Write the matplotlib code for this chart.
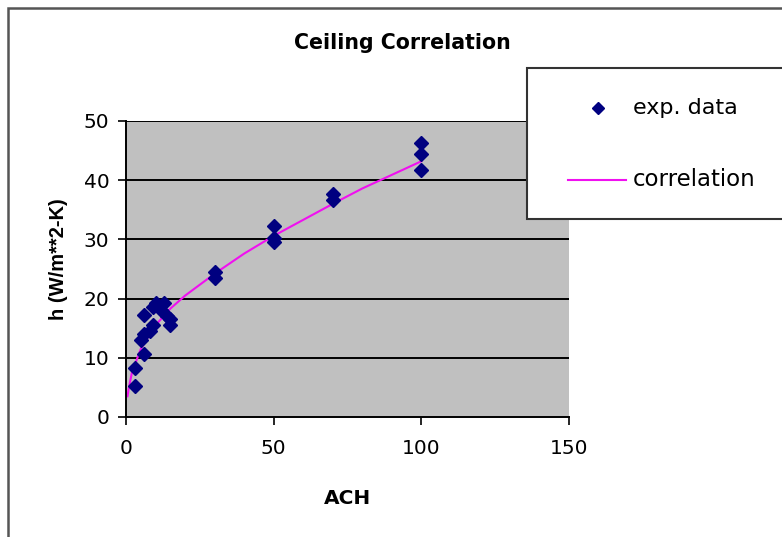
import matplotlib
matplotlib.use("Agg")
import matplotlib.pyplot as plt
from matplotlib.patches import Rectangle
from matplotlib.lines import Line2D

plt.rcParams['font.family'] = ['DejaVu Sans']

# Measured heat transfer coefficients
ach_data = [3, 3, 6, 5, 6, 8, 9, 9, 6, 10, 12, 13, 14, 15, 15,
            30, 30, 50, 50, 50, 70, 70, 100, 100, 100]
h_data = [5.2, 8.3, 10.6, 13.0, 14.0, 14.5, 15.5, 18.5, 17.2, 19.2, 18.0, 19.3,
          17.0, 16.5, 15.6, 23.4, 24.5, 29.6, 30.2, 32.2, 36.6, 37.6, 41.7, 44.4, 46.2]

# Correlation curve
ach_corr = [0.5, 1, 2, 5, 10, 15, 20, 30, 40, 50, 60, 70, 80, 90, 100]
h_corr = [3.5, 5.0, 7.5, 11.5, 15.5, 18.3, 20.5, 24.2, 27.6, 30.6, 33.3, 36.0, 38.6, 40.9, 43.2]

x_ticks = [0, 50, 100, 150]
y_ticks = [0, 10, 20, 30, 40, 50]

W, H = 782, 537
fig = plt.figure(figsize=(W / 100, H / 100), dpi=100)
fig.patch.set_facecolor('white')

# Outer chart frame
fig.patches.append(Rectangle((8 / W, -0.1), 1.2, 1 - 8 / H + 0.1,
                             transform=fig.transFigure, fill=False,
                             edgecolor='#555555', linewidth=1.8))

ax = fig.add_axes([126 / W, 1 - 417 / H, (569 - 126) / W, (417 - 121) / H])
ax.set_facecolor('#C0C0C0')
ax.set_xlim(0, 150)
ax.set_ylim(0, 50)
ax.set_xticks(x_ticks)
ax.set_yticks(y_ticks)
for y in y_ticks[1:]:
    ax.axhline(y, color='black', linewidth=1.4, zorder=1)

corr_line, = ax.plot(ach_corr, h_corr, color='#F010F0', linewidth=1.5, zorder=2)
pts, = ax.plot(ach_data, h_data, linestyle='none', marker='D', markersize=7,
               color='#000080', zorder=3)

for s in ['top', 'right']:
    ax.spines[s].set_visible(False)
for s in ['left', 'bottom']:
    ax.spines[s].set_linewidth(1.4)
    ax.spines[s].set_color('black')
ax.tick_params(direction='out', length=6, width=1.2, labelsize=14.5,
               colors='black', pad=6)
ax.tick_params(axis='x', pad=10)

ax.set_xlabel('ACH', fontsize=14.5, fontweight='bold')
ax.xaxis.set_label_coords(0.499, -0.243)
ax.set_ylabel('h (W/m**2-K)', fontsize=14.5, fontweight='bold',
              family='Liberation Sans')
ax.yaxis.set_label_coords(-0.131, 0.534)
fig.text(402 / W, 1 - 43 / H, 'Ceiling Correlation', fontsize=14.8,
         fontweight='bold', ha='center', va='center')

# Legend box
fig.patches.append(Rectangle((527 / W, 1 - 219 / H), 0.5, (219 - 68) / H,
                             transform=fig.transFigure, facecolor='white',
                             edgecolor='#333333', linewidth=1.5, zorder=5))
fig.add_artist(Line2D([598 / W], [1 - 108 / H], marker='D', markersize=6.5,
                      color='#000080', linestyle='none', zorder=6))
fig.text(633 / W, 1 - 108 / H, 'exp. data', fontsize=16, va='center',
         ha='left', zorder=6)
fig.add_artist(Line2D([568 / W, 626 / W], [1 - 180 / H, 1 - 180 / H],
                      color='#F010F0', linewidth=1.5, zorder=6))
fig.text(633 / W, 1 - 180 / H, 'correlation', fontsize=16.5, va='center',
         ha='left', zorder=6)

fig.savefig('out.png', dpi=100)
